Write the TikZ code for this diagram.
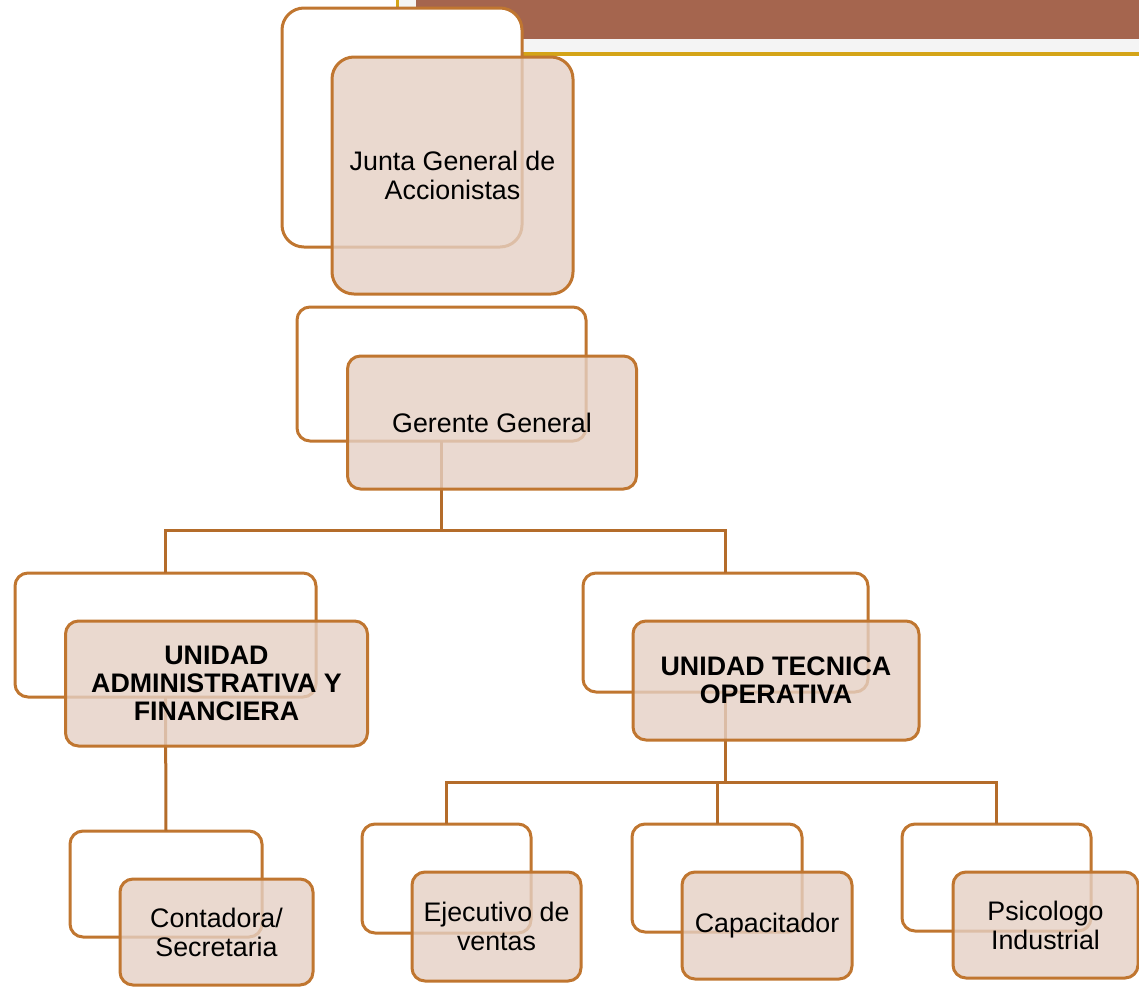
\documentclass[tikz,border=0pt]{standalone}
\usepackage{fontspec}
\setmainfont{Liberation Sans}
\definecolor{edge}{RGB}{192,118,48}
\definecolor{linkcol}{RGB}{180,108,42}
\definecolor{boxfill}{RGB}{229,208,196}
\definecolor{bannerbrown}{RGB}{165,101,78}
\definecolor{bandgray}{RGB}{244,244,244}
\definecolor{goldline}{RGB}{212,164,24}
\tikzset{
  backbox/.style={draw=edge, line width=3pt, fill=white, rounded corners=13pt, inner sep=0pt, outer sep=0pt},
  frontbox/.style={draw=edge, line width=3pt, fill=boxfill, fill opacity=0.8, text opacity=1, rounded corners=13pt, inner sep=0pt, outer sep=0pt, align=center, font=\fontsize{26.8}{29}\selectfont},
  link/.style={draw=linkcol, line width=3pt}
}
\begin{document}
\begin{tikzpicture}[x=1pt,y=-1pt]
\useasboundingbox (0,0) rectangle (1139,986);
% banner
\fill[bandgray] (399,0) rectangle (1139,52);
\fill[bannerbrown] (416,0) rectangle (1139,39);
\fill[goldline] (396,0) rectangle (399,56);
\fill[goldline] (396,52) rectangle (1139,56);
% back boxes
\node[backbox, rounded corners=22pt, minimum width=240, minimum height=239] (jb) at (402,127.5) {};
\node[backbox, minimum width=289, minimum height=134] (gb) at (441.5,374) {};
\node[backbox, minimum width=301, minimum height=124] (ab) at (165.5,635) {};
\node[backbox, minimum width=285, minimum height=119] (tb) at (725.5,632.5) {};
\node[backbox, minimum width=192, minimum height=106] (cb) at (166,884) {};
\node[backbox, minimum width=169, minimum height=109] (eb) at (446.5,878.5) {};
\node[backbox, minimum width=170, minimum height=108] (kb) at (717,878) {};
\node[backbox, minimum width=189, minimum height=107] (pb) at (996.5,877.5) {};
% connectors
\coordinate (j1) at (441.5,530);
\coordinate (j2) at (725.5,782);
\draw[link] (gb.south) -- (j1) -| (ab.north);
\draw[link] (j1) -| (tb.north);
\draw[link] (ab.south) -- (cb.north);
\draw[link] (tb.south) -- (j2) -| (eb.north);
\draw[link] (j2) -| (kb.north);
\draw[link] (j2) -| (pb.north);
% front boxes
\node[frontbox, rounded corners=22pt, minimum width=241, minimum height=237] (jf) at (452.5,175.5) {Junta General de\\Accionistas};
\node[frontbox, minimum width=289, minimum height=133] (gf) at (492,422.5) {Gerente General};
\node[frontbox, minimum width=302, minimum height=125, font=\fontsize{26.8}{28}\selectfont\bfseries] (af) at (216.5,683.5) {UNIDAD\\ADMINISTRATIVA Y\\FINANCIERA};
\node[frontbox, minimum width=286, minimum height=119, font=\fontsize{26.8}{28}\selectfont\bfseries] (tf) at (776,680.5) {UNIDAD TECNICA\\OPERATIVA};
\node[frontbox, minimum width=193, minimum height=106] (cf) at (216.5,932) {Contadora/\\Secretaria};
\node[frontbox, minimum width=169, minimum height=109] (ef) at (496.5,926.5) {Ejecutivo de\\ventas};
\node[frontbox, minimum width=170, minimum height=107] (kf) at (767,925.5) {Capacitador};
\node[frontbox, minimum width=185, minimum height=106] (pf) at (1045.5,925) {Psicologo\\Industrial};
\end{tikzpicture}
\end{document}
